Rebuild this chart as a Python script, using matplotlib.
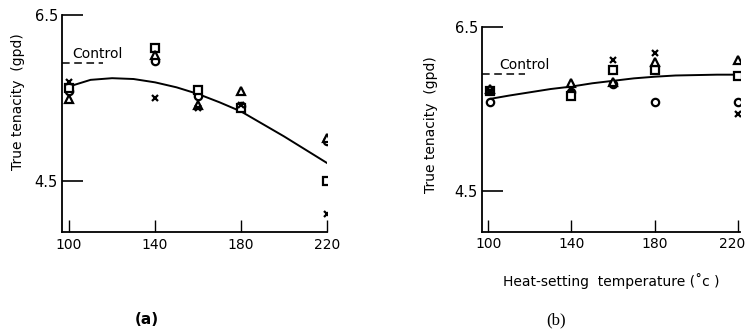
import numpy as np
import matplotlib.pyplot as plt
import matplotlib.transforms as mtransforms

plt.rcParams.update({
    "font.family": "DejaVu Sans",
    "font.size": 10,
    "xtick.direction": "in",
    "ytick.direction": "in",
})

# heat-setting temperatures (deg C)
temps = [100, 140, 160, 180, 220]
temps_b = [101, 140, 160, 180, 220]

# panel (a): true tenacity (gpd) per sample series
a_circle = [5.58, 5.95, 5.52, 5.40, 4.98]
a_square = [5.62, 6.10, 5.60, 5.38, 4.50]
a_triangle = [5.49, 6.02, 5.42, 5.58, 5.02]
a_cross = [5.70, 5.50, 5.38, 5.42, 4.11]

# panel (a): fitted curve
a_curve_t = [100, 110, 120, 130, 140, 150, 160, 170, 180, 190, 200, 210, 220]
a_curve_v = [5.64, 5.72, 5.74, 5.73, 5.69, 5.63, 5.55, 5.45, 5.34, 5.19, 5.04, 4.88, 4.72]

# panel (b): true tenacity (gpd) per sample series
b_circle = [5.58, 5.70, 5.80, 5.58, 5.58]
b_square = [5.71, 5.66, 5.97, 5.97, 5.90]
b_triangle = [5.74, 5.81, 5.82, 6.07, 6.10]
b_cross = [5.72, 5.74, 6.09, 6.18, 5.43]

# panel (b): fitted curve
b_curve_t = [101, 110, 120, 130, 140, 150, 160, 170, 180, 190, 200, 210, 220]
b_curve_v = [5.62, 5.66, 5.70, 5.74, 5.77, 5.81, 5.84, 5.87, 5.89, 5.905, 5.91, 5.915, 5.915]

control = 5.92
x_ticks = [100, 140, 180, 220]
y_ticks = [4.5, 6.5]

fig = plt.figure(figsize=(7.45, 3.36), dpi=100)
ax_a = fig.add_axes([62 / 745, 104 / 336, 265 / 745, 217 / 336])
ax_b = fig.add_axes([482 / 745, 104.3 / 336, 258 / 745, 205 / 336])


def draw_panel(ax, t, circ, sq, tri, cross, ct, cv, xlim, ylim, ctrl_end, ctrl_text_x):
    mk = dict(linestyle="none", color="black", markersize=5.3,
              markerfacecolor="white", markeredgewidth=1.6, zorder=3)
    ax.plot(t, circ, marker="o", **mk)
    ax.plot(t, sq, marker="s", **mk)
    ax.plot(t, tri, marker="^", **mk)
    ax.plot(t, cross, marker="x", linestyle="none", color="black",
            markersize=4.8, markeredgewidth=1.6, zorder=4)
    ax.plot(ct, cv, color="black", linewidth=1.4, zorder=2)

    ax.plot([xlim[0], ctrl_end], [control, control], color="black",
            linewidth=1.1, dashes=(5, 3))
    ax.text(ctrl_text_x, control + 0.03, "Control", fontsize=10,
            ha="left", va="bottom")

    ax.set_xlim(*xlim)
    ax.set_ylim(*ylim)
    ax.set_xticks(x_ticks)
    ax.set_yticks(y_ticks)
    ax.set_yticklabels(["4.5", "6.5"])
    ax.tick_params(axis="y", length=15, width=1.2, pad=3, labelsize=10.5)
    ax.tick_params(axis="x", length=9, width=1.0, pad=4, labelsize=10)
    for side in ("top", "right"):
        ax.spines[side].set_visible(False)
    for side in ("left", "bottom"):
        ax.spines[side].set_linewidth(1.3)
    ax.set_ylabel("True tenacity  (gpd)", fontsize=10, labelpad=14)


draw_panel(ax_a, temps, a_circle, a_square, a_triangle, a_cross,
           a_curve_t, a_curve_v, (96.7, 220), (3.89, 6.5), 115.8, 101.5)
draw_panel(ax_b, temps_b, b_circle, b_square, b_triangle, b_cross,
           b_curve_t, b_curve_v, (97, 221), (4.0, 6.5), 117.6, 105.5)

ax_a.yaxis.set_label_coords(-0.14, 0.6)
ax_b.yaxis.set_label_coords(-0.17, 0.52)
ax_b.set_xlabel("Heat-setting  temperature (\u02da\u0441 )", fontsize=10, labelpad=16)

# keep the last tick label of (b) inside the figure
fig.canvas.draw()
last = ax_b.get_xticklabels()[-1]
last.set_transform(last.get_transform() +
                   mtransforms.ScaledTranslation(-6 / 100, 0, fig.dpi_scale_trans))

fig.text(147 / 745, 1 - 320 / 336, "(a)", fontsize=11, fontweight="bold",
         ha="center", va="center")
fig.text(556 / 745, 1 - 320 / 336, "(b)", fontsize=12, family="Liberation Serif",
         ha="center", va="center")

fig.savefig("out.png", dpi=100)
